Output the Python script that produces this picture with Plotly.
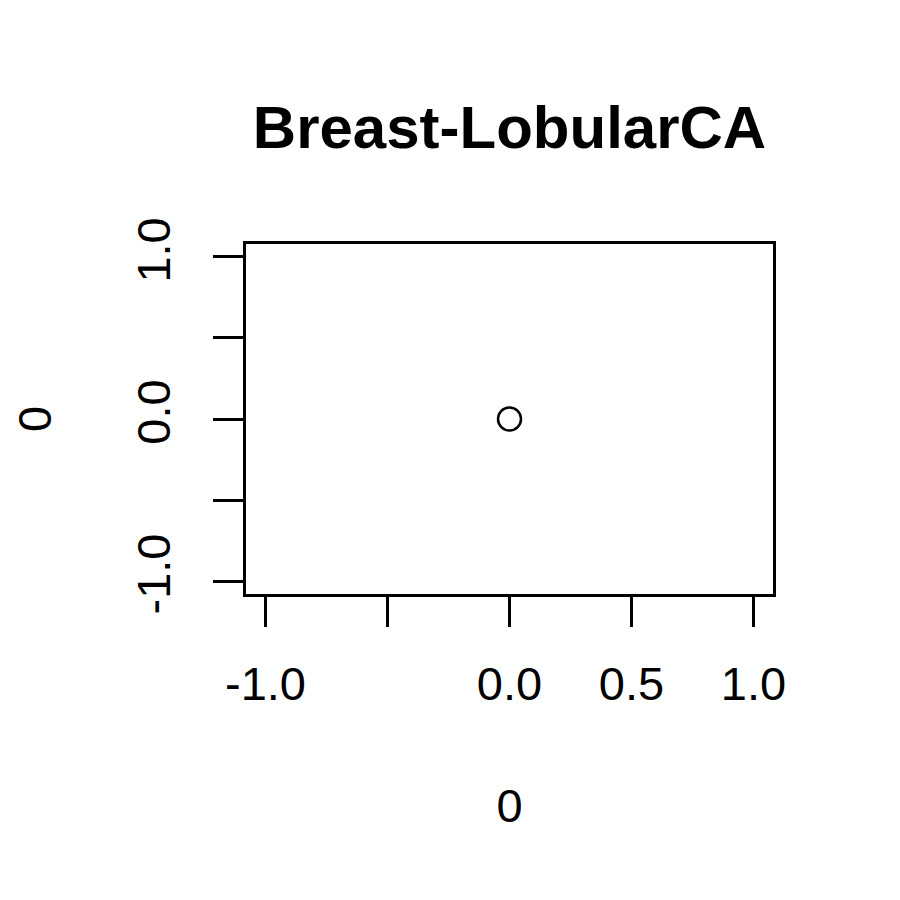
"""
单点散点图 Breast-LobularCA
"""
import plotly.graph_objects as go

# 数据
xs = [0.0]
ys = [0.0]
x_ticks = [-1.0, -0.5, 0.0, 0.5, 1.0]
x_tick_labels = ['-1.0', '', '0.0', '0.5', '1.0']  # -0.5 的标签被 R 省略了
y_ticks = [-1.0, -0.5, 0.0, 0.5, 1.0]
y_tick_labels = ['-1.0', '', '0.0', '', '1.0']
title_text = 'Breast-LobularCA'
x_title = '0'
y_title = '0'

font_name = 'Liberation Sans, Arial, sans-serif'

fig = go.Figure()
fig.add_trace(go.Scatter(
    x=xs,
    y=ys,
    mode='markers',
    marker=dict(symbol='circle-open', size=23, color='black',
                line=dict(width=2.5, color='black')),
    showlegend=False,
    hoverinfo='skip',
))

axis_common = dict(
    showgrid=False,
    zeroline=False,
    showline=True,
    mirror=True,
    linecolor='black',
    linewidth=2.5,
    ticks='outside',
    ticklen=30,
    tickwidth=2.5,
    tickcolor='black',
    tickfont=dict(family=font_name, size=47, color='black'),
)

fig.update_xaxes(
    range=[-1.08, 1.08],
    tickmode='array',
    tickvals=x_ticks,
    ticktext=x_tick_labels,
    ticklabelstandoff=17,
    title=dict(text=x_title, font=dict(family=font_name, size=47, color='black'),
               standoff=80),
    **axis_common,
)
fig.update_yaxes(
    range=[-1.08, 1.08],
    tickmode='array',
    tickvals=y_ticks,
    ticktext=y_tick_labels,
    tickangle=-90,
    ticklabelstandoff=24,
    title=dict(text=y_title, font=dict(family=font_name, size=47, color='black'),
               standoff=62),
    **axis_common,
)

# 页面本身有约 8px 的边距，这里整体左上移补偿
fig.update_layout(
    width=900,
    height=900,
    margin=dict(l=238, r=135, t=236, b=314, autoexpand=False),
    plot_bgcolor='white',
    paper_bgcolor='white',
    title=dict(
        text='<b>' + title_text + '</b>',
        font=dict(family=font_name, size=60, color='black'),
        x=0.5, xref='paper', xanchor='center',
        y=1 - 119 / 900, yref='container', yanchor='middle',
    ),
)

fig.write_html('out.html')
